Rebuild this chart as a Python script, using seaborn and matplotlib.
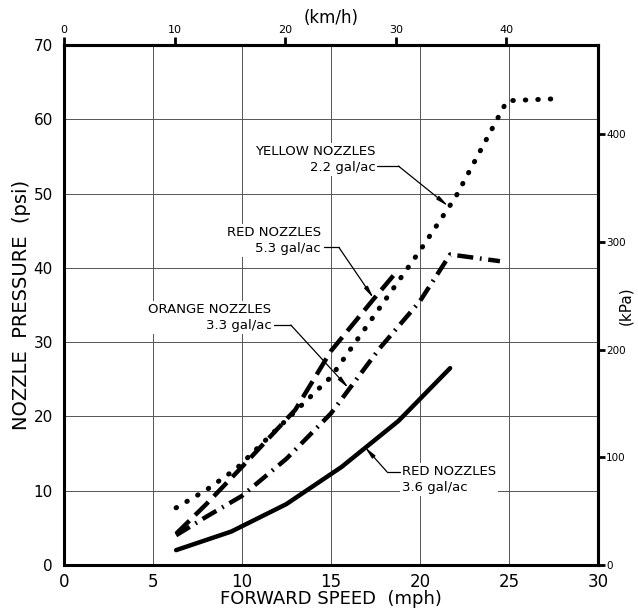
import matplotlib
matplotlib.use("Agg")
import matplotlib.pyplot as plt
import numpy as np
import seaborn as sns

sns.set_style("white")
plt.rcParams['font.family'] = ['DejaVu Sans']
plt.rcParams.update({'text.color': 'black', 'axes.labelcolor': 'black',
                     'xtick.color': 'black', 'ytick.color': 'black'})

# data (mph, psi)
yellow_mph = [6.3, 8.0, 9.7, 13.0, 15.0, 17.5, 20.0, 22.0, 24.9, 28.0]
yellow_psi = [7.7, 10.1, 13.0, 20.7, 25.3, 33.8, 42.3, 49.5, 62.5, 62.8]

red53_mph = [6.3, 8.0, 10.0, 13.0, 15.0, 17.4, 18.7]
red53_psi = [4.2, 8.2, 13.2, 20.9, 28.8, 35.8, 39.5]

orange_mph = [6.3, 8.0, 10.0, 12.5, 15.0, 17.75, 20.0, 21.7, 24.5]
orange_psi = [4.0, 6.5, 9.3, 14.3, 20.4, 29.2, 35.5, 41.8, 40.9]

red36_mph = [6.3, 9.4, 12.5, 15.6, 18.8, 21.7]
red36_psi = [2.0, 4.5, 8.2, 13.2, 19.4, 26.5]

labels = ["YELLOW NOZZLES\n2.2 gal/ac", "RED NOZZLES\n5.3 gal/ac",
          "ORANGE NOZZLES\n3.3 gal/ac", "RED NOZZLES\n3.6 gal/ac"]

fig = plt.figure(figsize=(6.38, 6.11), dpi=100)
ax = fig.add_axes([0.1003, 0.0753, 0.8367, 0.8510])

lw = 3.2
sns.lineplot(x=yellow_mph, y=yellow_psi, ax=ax, color="black", lw=3.6,
             sort=False, estimator=None)
ax.lines[-1].set_dashes([0.1, 2.4])
ax.lines[-1].set_dash_capstyle("round")

sns.lineplot(x=red53_mph, y=red53_psi, ax=ax, color="black", lw=lw,
             sort=False, estimator=None)
ax.lines[-1].set_dashes([4.2, 1.8])

sns.lineplot(x=orange_mph, y=orange_psi, ax=ax, color="black", lw=lw,
             sort=False, estimator=None)
ax.lines[-1].set_dashes([3.6, 1.5, 0.4, 1.5])

sns.lineplot(x=red36_mph, y=red36_psi, ax=ax, color="black", lw=lw,
             sort=False, estimator=None)
ax.lines[-1].set_solid_capstyle("round")

ax.set_xlim(0, 30)
ax.set_ylim(0, 70)
ax.set_xticks(range(0, 31, 5))
ax.set_yticks(range(0, 71, 10))
ax.grid(True, color="#555555", lw=0.7)
ax.set_axisbelow(True)
for s in ax.spines.values():
    s.set_linewidth(2.2)
    s.set_color("black")
ax.tick_params(axis="x", direction="out", length=5, width=2, labelsize=12, pad=1)
ax.tick_params(axis="y", direction="out", length=6, width=2, labelsize=11, pad=2)
ax.set_xlabel("FORWARD SPEED  (mph)", fontsize=13, labelpad=-1)
ax.set_ylabel("NOZZLE  PRESSURE  (psi)", fontsize=14, labelpad=2)

top = ax.secondary_xaxis("top", functions=(lambda v: v * 1.609344, lambda v: v / 1.609344))
top.set_xticks(range(0, 41, 10))
top.tick_params(direction="out", length=6, width=2, labelsize=8, pad=1)
top.spines["top"].set_linewidth(2.2)
top.set_xlabel("(km/h)", fontsize=12, labelpad=2)

right = ax.secondary_yaxis("right", functions=(lambda v: v * 6.894757, lambda v: v / 6.894757))
right.set_yticks(range(0, 401, 100))
right.tick_params(direction="out", length=5, width=2, labelsize=7.5, pad=1)
right.spines["right"].set_linewidth(2.2)
fig.text(0.981, 0.50, "(kPa)", rotation=90, ha="center", va="center", fontsize=11)

tb = dict(facecolor="white", edgecolor="none", pad=1.5)
txt_kw = dict(fontsize=9.5, linespacing=1.25, va="center", bbox=tb, zorder=3)
arrow = dict(arrowstyle="-|>,head_length=0.7,head_width=0.12",
             color="black", lw=0.9, shrinkA=0, shrinkB=0)

# YELLOW 2.2
ax.text(17.5, 54.6, labels[0], ha="right", multialignment="right", **txt_kw)
ax.plot([17.6, 18.8], [53.7, 53.7], color="black", lw=0.9, zorder=4)
ax.annotate("", xy=(21.6, 48.3), xytext=(18.8, 53.7), arrowprops=arrow, zorder=4)
# RED 5.3
ax.text(14.45, 43.7, labels[1], ha="right", multialignment="right", **txt_kw)
ax.plot([14.6, 15.45], [42.75, 42.75], color="black", lw=0.9, zorder=4)
ax.annotate("", xy=(17.4, 35.9), xytext=(15.45, 42.75), arrowprops=arrow, zorder=4)
# ORANGE 3.3
ax.text(11.65, 33.3, labels[2], ha="right", multialignment="right", **txt_kw)
ax.plot([11.8, 12.75], [32.3, 32.3], color="black", lw=0.9, zorder=4)
ax.annotate("", xy=(16.0, 23.8), xytext=(12.75, 32.3), arrowprops=arrow, zorder=4)
# RED 3.6
ax.text(19.0, 11.5, labels[3], ha="left", multialignment="left", **txt_kw)
ax.plot([18.9, 18.15], [12.55, 12.55], color="black", lw=0.9, zorder=4)
ax.annotate("", xy=(16.9, 15.9), xytext=(18.15, 12.55), arrowprops=arrow, zorder=4)

fig.savefig("out.png", dpi=100)
